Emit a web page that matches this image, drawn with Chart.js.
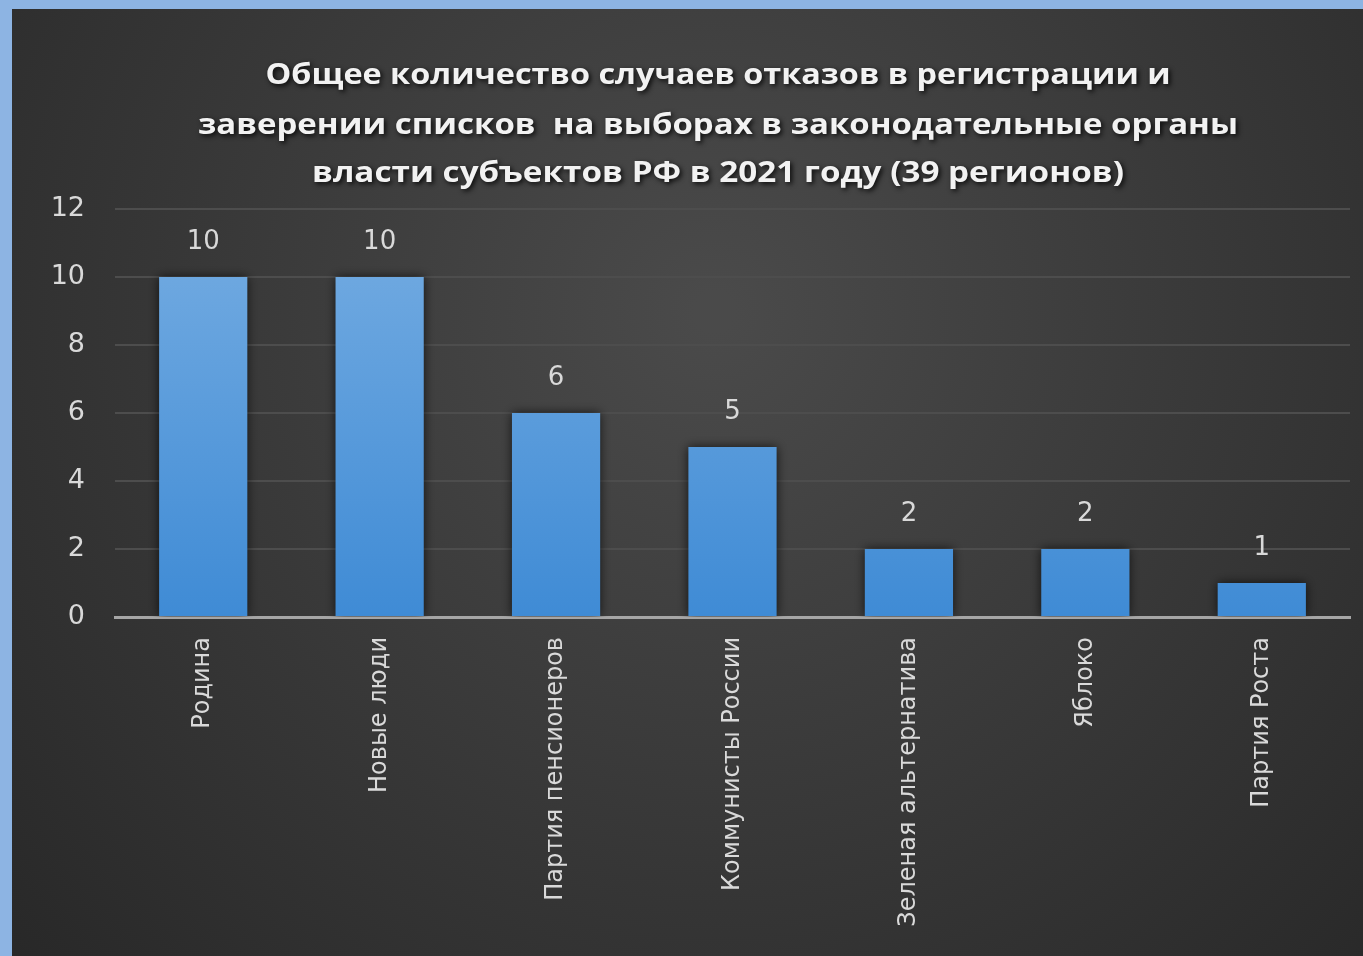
<!DOCTYPE html>
<html>
<head>
<meta charset="utf-8">
<script src="https://cdn.jsdelivr.net/npm/chart.js@4.4.1/dist/chart.umd.min.js"></script>
<style>
  html, body { margin: 0; padding: 0; background: #8db4e3; overflow: hidden; }
  #wrap { position: absolute; left: 12px; top: 9px; width: 1351px; height: 947px; }
  canvas { display: block; }
</style>
</head>
<body>
<div id="wrap"><canvas id="c" width="1351" height="947"></canvas></div>
<script>
const categories = ["Родина", "Новые люди", "Партия пенсионеров", "Коммунисты России", "Зеленая альтернатива", "Яблоко", "Партия Роста"];
const values = [10, 10, 6, 5, 2, 2, 1];
const titleLines = [
  "Общее количество случаев отказов в регистрации и",
  "заверении списков  на выборах в законодательные органы",
  "власти субъектов РФ в 2021 году (39 регионов)"
];
const yTicks = { min: 0, max: 12, step: 2 };

const bgPlugin = {
  id: 'bg',
  beforeDraw(chart) {
    const ctx = chart.ctx, w = chart.width, h = chart.height;
    ctx.save();
    const g = ctx.createRadialGradient(w * 0.52, h * 0.32, 20, w * 0.52, h * 0.32, w * 0.75);
    g.addColorStop(0, '#4a4a4a');
    g.addColorStop(0.55, '#363636');
    g.addColorStop(1, '#262626');
    ctx.fillStyle = g;
    ctx.fillRect(0, 0, w, h);
    ctx.restore();
  }
};

const titlePlugin = {
  id: 'customTitle',
  afterDraw(chart) {
    const ctx = chart.ctx;
    ctx.save();
    ctx.font = 'bold 29px "Open Sans", sans-serif';
    ctx.textAlign = 'center';
    ctx.textBaseline = 'middle';
    ctx.fillStyle = '#f2f2f2';
    ctx.shadowColor = 'rgba(0,0,0,0.85)';
    ctx.shadowBlur = 5;
    ctx.shadowOffsetX = 2;
    ctx.shadowOffsetY = 2;
    const ys = [67, 117, 165];
    titleLines.forEach((t, i) => {
      const m = ctx.measureText(t).width;
      const target = [905, 1040, 812][i];
      ctx.save();
      ctx.translate(706, ys[i]);
      ctx.scale(target / m, 1);
      ctx.fillText(t, 0, 0);
      ctx.restore();
    });
    ctx.restore();
  }
};

const shadowPlugin = {
  id: 'barShadow',
  beforeDatasetsDraw(chart) {
    const ctx = chart.ctx;
    ctx.save();
    ctx.shadowColor = 'rgba(0,0,0,0.7)';
    ctx.shadowBlur = 10;
    ctx.shadowOffsetX = 0;
    ctx.shadowOffsetY = 0;
  },
  afterDatasetsDraw(chart) {
    chart.ctx.restore();
    const ctx = chart.ctx;
    ctx.save();
    ctx.font = '26px "DejaVu Sans", sans-serif';
    ctx.fillStyle = '#d9d9d9';
    ctx.textAlign = 'center';
    ctx.textBaseline = 'bottom';
    const meta = chart.getDatasetMeta(0);
    meta.data.forEach((bar, i) => {
      ctx.fillText(String(values[i]), bar.x, bar.y - 22);
    });
    ctx.restore();
  }
};

const ctx = document.getElementById('c').getContext('2d');
function barGradient(context) {
  const chart = context.chart;
  const area = chart.chartArea;
  if (!area) return '#5b9bd5';
  const g = chart.ctx.createLinearGradient(0, area.top, 0, area.bottom);
  g.addColorStop(0, '#76ade2');
  g.addColorStop(1, '#3f8bd5');
  return g;
}

new Chart(ctx, {
  type: 'bar',
  data: {
    labels: categories,
    datasets: [{
      data: values,
      backgroundColor: barGradient,
      borderWidth: 0,
      barPercentage: 0.5,
      categoryPercentage: 1.0
    }]
  },
  options: {
    responsive: false,
    animation: false,
    events: [],
    layout: { padding: { top: 200, right: 13, left: 0, bottom: 0 } },
    plugins: { legend: { display: false }, tooltip: { enabled: false }, title: { display: false } },
    scales: {
      x: {
        grid: { display: false, drawTicks: false },
        border: { display: true, color: '#a6a6a6', width: 3 },
        ticks: {
          color: '#d9d9d9',
          font: { family: '"DejaVu Sans", sans-serif', size: 24 },
          minRotation: 90, maxRotation: 90,
          padding: 20,
          autoSkip: false
        },
        afterFit(scale) { scale.height = 339; }
      },
      y: {
        min: yTicks.min, max: yTicks.max,
        grid: { color: '#4d4d4d', lineWidth: 2, drawTicks: false },
        border: { display: false },
        ticks: {
          stepSize: yTicks.step,
          color: '#d9d9d9',
          font: { family: '"DejaVu Sans", sans-serif', size: 27 },
          padding: 30
        },
        afterFit(scale) { scale.width = 103; }
      }
    }
  },
  plugins: [bgPlugin, shadowPlugin, titlePlugin]
});
</script>
</body>
</html>
